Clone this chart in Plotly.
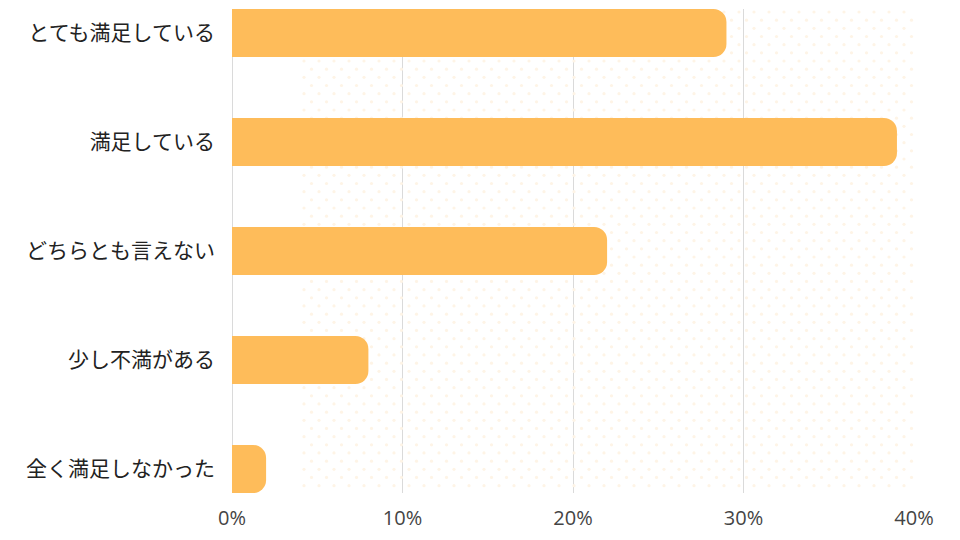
import numpy as np
import plotly.graph_objects as go

categories = ["とても満足している", "満足している", "どちらとも言えない", "少し不満がある", "全く満足しなかった"]
values = [29, 39, 22, 8, 2]
tick_vals = [0, 10, 20, 30, 40]
tick_text = ["0%", "10%", "20%", "30%", "40%"]

BAR_COLOR = "#FEBC5A"
FONT = "Open Sans, Noto Sans CJK JP, sans-serif"

# decorative dot pattern (pixel-space helper grid)
cols = np.arange(304, 921, 15.0)
rows = np.arange(12, 505, 8.2)
dx, dy = [], []
for i, r in enumerate(rows):
    off = 0 if i % 2 == 0 else 7.5
    for c in cols:
        if c + off <= 920:
            dx.append(c + off)
            dy.append(r)

fig = go.Figure()
fig.add_trace(go.Scatter(
    x=dx, y=dy, mode="markers", xaxis="x", yaxis="y",
    marker=dict(size=3.2, color="#FEF4E6", line=dict(width=0)),
    hoverinfo="skip", showlegend=False, cliponaxis=False,
))
fig.add_trace(go.Bar(
    x=values, y=categories, orientation="h", xaxis="x2", yaxis="y2",
    marker=dict(color=BAR_COLOR, cornerradius=13, line=dict(width=0)),
    width=0.44, showlegend=False,
))

fig.update_layout(
    width=960, height=540,
    margin=dict(l=232, r=46, t=9, b=45),
    paper_bgcolor="white", plot_bgcolor="rgba(0,0,0,0)",
    font=dict(family=FONT, size=18, color="#333333"),
    xaxis=dict(range=[232, 914], visible=False, fixedrange=True),
    yaxis=dict(range=[495, 9], visible=False, fixedrange=True),
    xaxis2=dict(
        overlaying="x", side="bottom", range=[0, 40],
        tickvals=tick_vals, ticktext=tick_text,
        showgrid=True, gridcolor="#DADADA", gridwidth=1,
        zeroline=True, zerolinecolor="#DADADA", zerolinewidth=1,
        showline=False, ticks="", ticklabelstandoff=11,
        tickfont=dict(family=FONT, size=20, color="#444444"),
    ),
    yaxis2=dict(
        overlaying="y", side="left",
        categoryorder="array", categoryarray=categories,
        range=[4.22, -0.22], showgrid=False, zeroline=False, showline=False,
        ticks="", ticklabelstandoff=16,
        tickfont=dict(family="Noto Sans CJK JP, sans-serif", size=21, color="#222222"),
    ),
    bargap=0.56,
)

fig.write_html("out.html")
